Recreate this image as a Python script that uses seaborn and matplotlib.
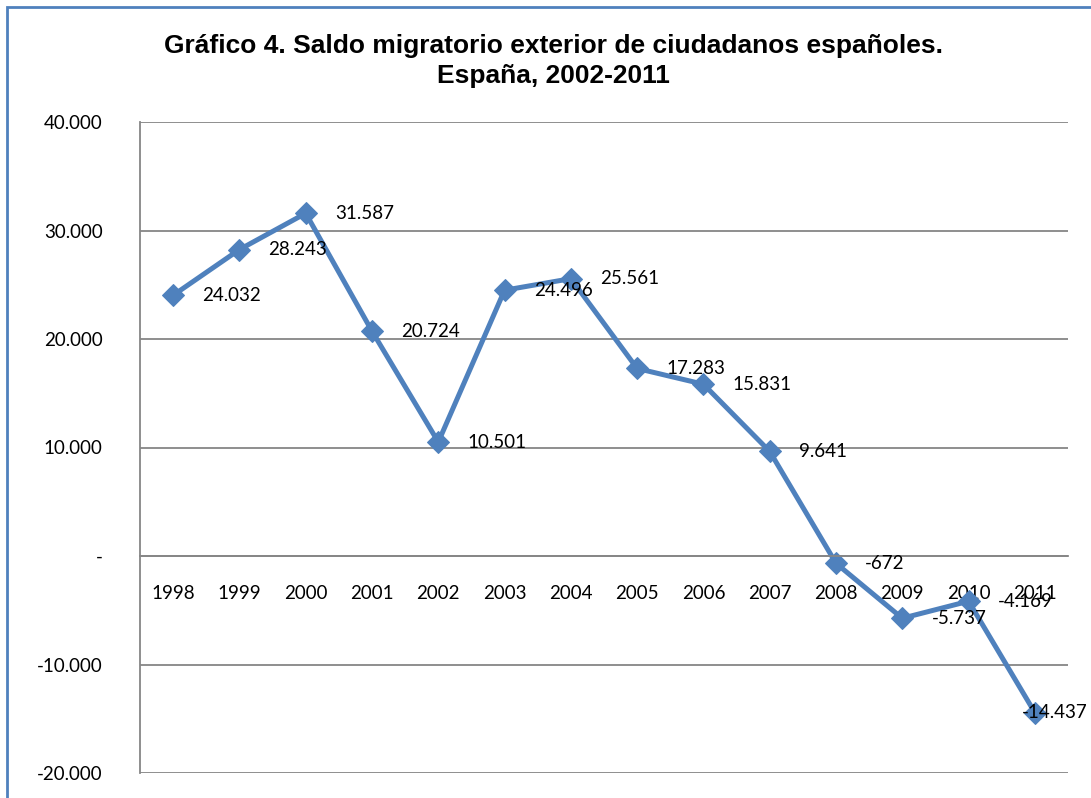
import pandas as pd
import numpy as np
import seaborn as sns
import matplotlib.pyplot as plt
from matplotlib.patches import Rectangle
from matplotlib.ticker import FuncFormatter

sns.set_style('white')
plt.rcParams['font.family'] = ['Lato', 'DejaVu Sans']

# datos: saldo migratorio exterior de ciudadanos españoles
years = [1998, 1999, 2000, 2001, 2002, 2003, 2004, 2005, 2006, 2007, 2008, 2009, 2010, 2011]
saldo = [24032, 28243, 31587, 20724, 10501, 24496, 25561, 17283, 15831, 9641, -672, -5737, -4169, -14437]
y_ticks = [-20000, -10000, 0, 10000, 20000, 30000, 40000]

df = pd.DataFrame({'year': years, 'saldo': saldo})

azul = '#4F81BD'
gris = '#868686'


def fmt_es(v, pos=None):
    # formato español: punto como separador de miles, cero como guion
    if v == 0:
        return '-'
    return f'{int(v):,}'.replace(',', '.')


fig = plt.figure(figsize=(10.91, 7.98), dpi=100)
ax = fig.add_axes([140 / 1091, 1 - 773 / 798, (1068 - 140) / 1091, (773 - 122) / 798])

sns.lineplot(data=df, x='year', y='saldo', ax=ax, color=azul, linewidth=3.6,
             marker='D', markersize=11, markeredgecolor=azul, markerfacecolor=azul)

# etiquetas de datos a la derecha de cada punto (la última queda dentro del gráfico)
for i, (x, y) in enumerate(zip(years, saldo)):
    dx = -9 if i == len(years) - 1 else 21
    ax.annotate(fmt_es(y), (x, y), xytext=(dx, 0), textcoords='offset points',
                ha='left', va='center', fontsize=13.5, color='black')

ax.set_xlim(1997.5, 2011.5)
ax.set_ylim(-20000, 40000)
ax.set_yticks(y_ticks)
ax.yaxis.set_major_formatter(FuncFormatter(fmt_es))
ax.set_xticks(years)
ax.set_xticklabels([str(y) for y in years])
ax.grid(axis='y', color=gris, linewidth=1.3)
ax.set_axisbelow(True)

# eje horizontal cruza en cero
ax.spines['bottom'].set_position(('data', 0))
ax.spines['bottom'].set_color(gris)
ax.spines['bottom'].set_linewidth(1.3)
ax.spines['left'].set_color(gris)
ax.spines['left'].set_linewidth(1.3)
ax.spines['top'].set_visible(False)
ax.spines['right'].set_visible(False)
ax.tick_params(axis='x', length=0, pad=21, labelsize=13.5, labelcolor='black')
ax.tick_params(axis='y', length=0, pad=27, labelsize=13.5, labelcolor='black')
ax.set_xlabel('')
ax.set_ylabel('')

fig.text(553 / 1091, 1 - 61 / 798,
         'Gráfico 4. Saldo migratorio exterior de ciudadanos españoles.\nEspaña, 2002-2011',
         ha='center', va='center', fontsize=19, fontweight='bold', color='black',
         family=['Liberation Sans', 'DejaVu Sans'], linespacing=1.3)

# borde del gráfico
fig.patches.append(Rectangle((7 / 1091, -0.05), 1.1, 1 - 7 / 798 + 0.05,
                             transform=fig.transFigure, fill=False,
                             edgecolor=azul, linewidth=2))

fig.savefig('out.png', dpi=100)
